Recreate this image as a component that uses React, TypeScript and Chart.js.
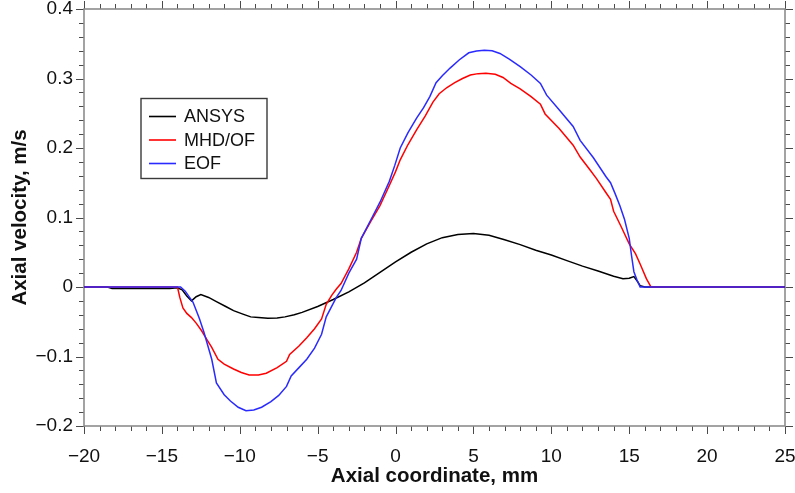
import React, { useEffect, useRef } from "react";
import { Chart, registerables } from "chart.js";

Chart.register(...registerables);

// ---------- data ----------
const ansysX = [-20, -18.5, -18.2, -14.5, -14, -13.7, -13.4, -13.1, -12.8, -12.5, -12.0, -11.5, -10.9, -10.4, -9.8, -9.3, -8.8, -8.2, -7.6, -7.1, -6.5, -6.0, -5.0, -4.0, -3.0, -2.0, -1.0, 0, 1, 2, 3, 4, 5, 6, 7, 8, 9, 10, 11, 12, 13, 14, 14.6, 15.0, 15.3, 15.5, 15.7, 16, 25];
const ansysY = [0, 0, -0.002, -0.002, -0.001, -0.004, -0.013, -0.020, -0.014, -0.011, -0.015, -0.021, -0.028, -0.034, -0.039, -0.043, -0.044, -0.045, -0.0445, -0.043, -0.040, -0.0365, -0.028, -0.018, -0.007, 0.006, 0.021, 0.036, 0.050, 0.062, 0.071, 0.0755, 0.0768, 0.0745, 0.068, 0.061, 0.053, 0.046, 0.038, 0.030, 0.023, 0.0155, 0.012, 0.0125, 0.015, 0.009, 0.002, 0, 0];

const mhdX = [-20, -14.0, -13.85, -13.65, -13.4, -13.1, -12.8, -12.45, -12.1, -11.8, -11.4, -11.0, -10.4, -9.9, -9.4, -8.8, -8.3, -7.6, -7.0, -6.8, -6.2, -5.7, -5.2, -4.75, -4.45, -4.1, -3.8, -3.5, -3.0, -2.5, -2.2, -1.6, -1.0, -0.4, 0.0, 0.3, 0.8, 1.35, 1.9, 2.4, 2.8, 3.3, 3.8, 4.3, 4.8, 5.3, 5.8, 6.4, 6.9, 7.4, 8.0, 8.7, 9.3, 9.6, 10.5, 11.4, 11.85, 12.5, 12.9, 13.5, 13.8, 14.0, 14.5, 15.0, 15.4, 15.7, 16.1, 16.4, 25];
const mhdY = [0, 0, -0.015, -0.030, -0.038, -0.044, -0.052, -0.063, -0.076, -0.087, -0.104, -0.111, -0.118, -0.123, -0.1265, -0.1265, -0.124, -0.116, -0.107, -0.097, -0.085, -0.073, -0.060, -0.046, -0.025, -0.012, -0.003, 0.005, 0.026, 0.050, 0.070, 0.094, 0.117, 0.146, 0.166, 0.183, 0.205, 0.226, 0.246, 0.266, 0.278, 0.287, 0.294, 0.300, 0.305, 0.307, 0.3075, 0.306, 0.3015, 0.293, 0.285, 0.274, 0.263, 0.249, 0.228, 0.204, 0.187, 0.168, 0.156, 0.136, 0.126, 0.109, 0.086, 0.062, 0.048, 0.033, 0.012, 0, 0];

const eofX = [-20, -13.8, -13.5, -13.0, -12.6, -12.3, -11.8, -11.5, -11.0, -10.6, -10.1, -9.6, -9.1, -8.6, -8.0, -7.5, -7.0, -6.7, -6.2, -5.7, -5.2, -4.75, -4.45, -4.1, -3.8, -3.5, -3.0, -2.5, -2.2, -1.6, -1.0, -0.4, -0.05, 0.3, 0.8, 1.35, 1.8, 2.2, 2.6, 3.0, 3.5, 4.1, 4.7, 5.2, 5.7, 6.2, 6.7, 7.3, 8.0, 8.7, 9.3, 9.7, 10.5, 11.4, 11.85, 12.7, 13.5, 13.8, 14.1, 14.4, 14.7, 15.0, 15.15, 15.3, 15.5, 15.7, 25];
const eofY = [0, 0, -0.006, -0.022, -0.045, -0.065, -0.104, -0.138, -0.155, -0.164, -0.173, -0.178, -0.177, -0.173, -0.165, -0.156, -0.143, -0.128, -0.116, -0.104, -0.088, -0.068, -0.043, -0.028, -0.015, -0.005, 0.020, 0.040, 0.070, 0.096, 0.122, 0.152, 0.175, 0.200, 0.222, 0.243, 0.258, 0.274, 0.294, 0.304, 0.315, 0.327, 0.337, 0.3395, 0.3405, 0.340, 0.336, 0.328, 0.317, 0.305, 0.293, 0.276, 0.255, 0.231, 0.211, 0.186, 0.159, 0.150, 0.134, 0.117, 0.097, 0.070, 0.045, 0.022, 0.010, 0, 0];

const seriesLabels = ["ANSYS", "MHD/OF", "EOF"];
const seriesColors = ["#000000", "#ff0000", "#2a2aff"];

const xMin = -20;
const xMax = 25;
const xMajor = 5;
const xMinor = 1;
const yMin = -0.2;
const yMax = 0.4;
const yMajor = 0.1;
const yMinor = 0.02;

const xTitle = "Axial coordinate, mm";
const yTitle = "Axial velocity, m/s";

const FONT = "'Liberation Sans', Arial, sans-serif";

const toPoints = (xs: number[], ys: number[]) => xs.map((x, i) => ({ x, y: ys[i] }));

const fmt = (v: number, dec: number) => {
  const r = Math.round(v * 1000) / 1000;
  if (Math.abs(r) < 1e-9) return "0";
  const s = Math.abs(r).toFixed(dec);
  return (r < 0 ? "\u2212" : "") + s;
};

// frame + outward ticks on all four sides
const framePlugin = {
  id: "frame",
  beforeDatasetsDraw(chart: any) {
    const { ctx, chartArea } = chart;
    const { left: L, right: R, top: T, bottom: B } = chartArea;
    const xs = chart.scales.x;
    const ys = chart.scales.y;
    ctx.save();
    ctx.strokeStyle = "#4a4a4a";
    ctx.lineWidth = 1;
    ctx.beginPath();
    const nX = Math.round((xMax - xMin) / xMinor);
    for (let i = 0; i <= nX; i++) {
      const v = xMin + i * xMinor;
      const major = Math.abs(v / xMajor - Math.round(v / xMajor)) < 1e-6;
      const len = major ? 8 : 5;
      const px = Math.round(xs.getPixelForValue(v)) + 0.5;
      ctx.moveTo(px, B);
      ctx.lineTo(px, B + len);
      ctx.moveTo(px, T);
      ctx.lineTo(px, T - len);
    }
    const nY = Math.round((yMax - yMin) / yMinor);
    for (let i = 0; i <= nY; i++) {
      const v = yMin + i * yMinor;
      const major = Math.abs(v / yMajor - Math.round(v / yMajor)) < 1e-6;
      const len = major ? 8 : 5;
      const py = Math.round(ys.getPixelForValue(v)) + 0.5;
      ctx.moveTo(L, py);
      ctx.lineTo(L - len, py);
      ctx.moveTo(R, py);
      ctx.lineTo(R + len, py);
    }
    ctx.stroke();
    ctx.strokeStyle = "#8c8c8c";
    ctx.lineWidth = 1.6;
    ctx.strokeRect(L, T, R - L, B - T);
    ctx.restore();
  },
};

const legendPlugin = {
  id: "boxLegend",
  afterDraw(chart: any) {
    const { ctx } = chart;
    const boxX = 141;
    const boxY = 98.5;
    const boxW = 126;
    const boxH = 80;
    ctx.save();
    ctx.fillStyle = "#ffffff";
    ctx.fillRect(boxX, boxY, boxW, boxH);
    ctx.strokeStyle = "#3a3a3a";
    ctx.lineWidth = 1.4;
    ctx.strokeRect(boxX, boxY, boxW, boxH);
    ctx.font = `18px ${FONT}`;
    ctx.textBaseline = "middle";
    ctx.textAlign = "left";
    chart.data.datasets.forEach((ds: any, i: number) => {
      const rowY = boxY + 18 + i * 23.5;
      ctx.strokeStyle = ds.borderColor;
      ctx.lineWidth = 1.6;
      ctx.beginPath();
      ctx.moveTo(149, rowY);
      ctx.lineTo(176, rowY);
      ctx.stroke();
      ctx.fillStyle = "#111111";
      ctx.fillText(ds.label, 184, rowY + 1);
    });
    ctx.restore();
  },
};

export default function App() {
  const ref = useRef<HTMLCanvasElement>(null);

  useEffect(() => {
    if (!ref.current) return;
    const chart = new Chart(ref.current, {
      type: "line",
      data: {
        datasets: [
          { label: seriesLabels[0], data: toPoints(ansysX, ansysY), borderColor: seriesColors[0], order: 3 },
          { label: seriesLabels[1], data: toPoints(mhdX, mhdY), borderColor: seriesColors[1], order: 2 },
          { label: seriesLabels[2], data: toPoints(eofX, eofY), borderColor: seriesColors[2], order: 1 },
        ],
      },
      options: {
        animation: false,
        responsive: false,
        events: [],
        layout: { padding: { top: 9, right: 10, left: 0, bottom: 0 } },
        plugins: { legend: { display: false }, tooltip: { enabled: false } },
        elements: {
          point: { radius: 0 },
          line: { tension: 0, borderWidth: 1.5, fill: false },
        },
        scales: {
          x: {
            type: "linear",
            min: xMin,
            max: xMax,
            grid: { display: false, drawTicks: false },
            border: { display: false },
            ticks: {
              stepSize: xMajor,
              autoSkip: false,
              maxRotation: 0,
              padding: 19,
              color: "#111111",
              font: { family: FONT, size: 19 },
              callback: (v: any) => fmt(Number(v), 0),
            },
            title: {
              display: true,
              text: xTitle,
              color: "#111111",
              font: { family: FONT, size: 20.5, weight: "bold" },
              padding: { top: 0, bottom: 4.5 },
            },
            afterFit: (s: any) => {
              s.height = 67;
              s.paddingLeft = 0;
              s.paddingRight = 0;
            },
          },
          y: {
            type: "linear",
            min: yMin,
            max: yMax,
            grid: { display: false, drawTicks: false },
            border: { display: false },
            ticks: {
              stepSize: yMajor,
              padding: 11,
              color: "#111111",
              font: { family: FONT, size: 19 },
              callback: (v: any) => fmt(Number(v), 1),
            },
            title: {
              display: true,
              text: yTitle,
              color: "#111111",
              font: { family: FONT, size: 20.5, weight: "bold" },
              padding: { top: 8, bottom: 0 },
            },
            afterFit: (s: any) => {
              s.width = 84;
              s.paddingTop = 0;
              s.paddingBottom = 0;
            },
          },
        },
      } as any,
      plugins: [framePlugin, legendPlugin],
    });
    return () => chart.destroy();
  }, []);

  return (
    <div style={{ position: "absolute", left: 0, top: 0, width: 795, height: 493, background: "#fff" }}>
      <canvas ref={ref} width={795} height={493} style={{ display: "block" }} />
    </div>
  );
}
